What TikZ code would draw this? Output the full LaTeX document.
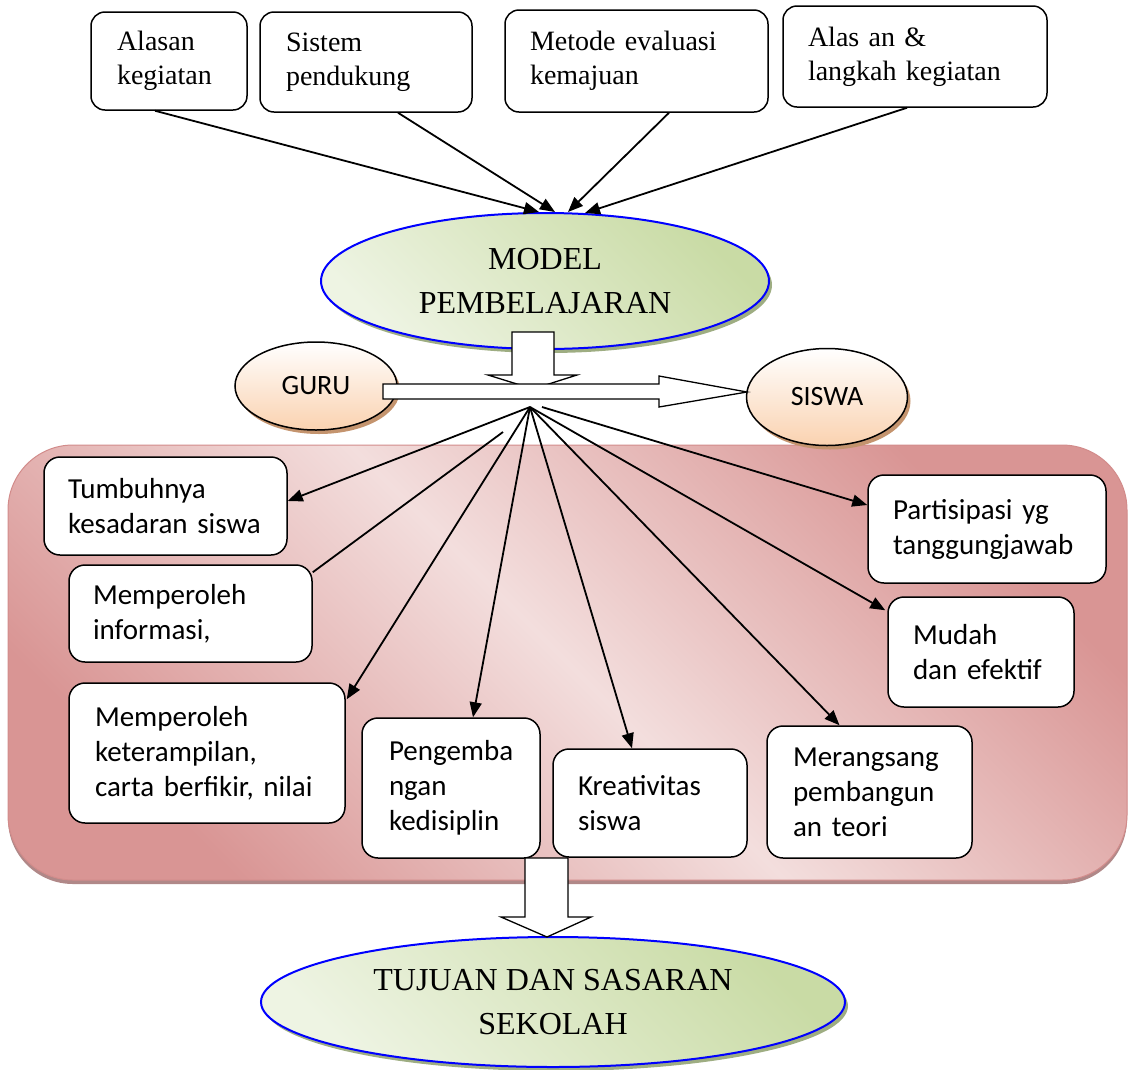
\documentclass[tikz,border=0pt]{standalone}
\usepackage{fontspec}
\setmainfont{Liberation Serif}
\newfontfamily\calibri{Carlito}
\usetikzlibrary{shapes.geometric,shadows,arrows.meta,calc}
\definecolor{pdark}{HTML}{D99594}
\definecolor{plight}{HTML}{F3DEDD}
\definecolor{gdark}{HTML}{C9DBA5}
\definecolor{glight}{HTML}{EEF4E3}
\definecolor{obot}{HTML}{FAD2B0}
\definecolor{gshadow}{HTML}{9EAD82}
\definecolor{oshadow}{HTML}{C4946E}
\definecolor{pshadow}{HTML}{B08888}
\definecolor{pborder}{HTML}{D28C8B}
\definecolor{eblue}{HTML}{0000FF}
\begin{document}
\begin{tikzpicture}[x=1pt,y=-1pt,
  topbox/.style={draw, fill=white, rounded corners=14pt, line width=1.5pt, align=left,
    font=\fontsize{28}{34}\selectfont, inner ysep=0pt},
  subbox/.style={draw, fill=white, rounded corners=16pt, line width=1.5pt, align=left,
    font=\calibri\fontsize{29}{35}\selectfont, inner ysep=0pt},
  goal/.style={ellipse, draw=eblue, line width=2pt, inner sep=0pt, align=center,
    font=\fontsize{32}{44}\selectfont, top color=gdark, bottom color=glight, shading angle=-45,
    drop shadow={shadow xshift=3pt, shadow yshift=-4pt, fill=gshadow, opacity=1}},
  actor/.style={ellipse, draw, line width=1.5pt, inner sep=0pt,
    font=\calibri\fontsize{28}{34}\selectfont, top color=white, bottom color=obot,
    drop shadow={shadow xshift=3pt, shadow yshift=-4pt, fill=oshadow, opacity=1}},
  panel/.style={draw=pborder, line width=1pt, rounded corners=65pt,
    top color=pdark, bottom color=pdark, middle color=plight, shading angle=-45,
    drop shadow={shadow xshift=0pt, shadow yshift=-4pt, fill=pshadow, opacity=1}},
  arr/.style={line width=1.8pt, -{Triangle[length=15pt,width=12pt]}},
  plain/.style={line width=1.8pt},
  blockarrow/.style={draw, fill=white, line width=1.3pt, line join=miter}
]
\useasboundingbox (0,0) rectangle (1133,1069);

% background panel
\node[panel, minimum width=1119pt, minimum height=435pt, inner sep=0pt] (panel) at (567.5,662.5) {};

% top boxes
\node[topbox, text width=104pt, inner xsep=26pt, minimum height=98pt] (alasan) at (169,61) {Alasan\\kegiatan};
\node[topbox, text width=160pt, inner xsep=26pt, minimum height=100pt] (sistem) at (366,62) {Sistem\\pendukung};
\node[topbox, text width=213pt, inner xsep=25pt, minimum height=102pt] (metode) at (636.5,61) {Metode evaluasi\\kemajuan};
\node[topbox, text width=214pt, inner xsep=25pt, minimum height=101pt] (langkah) at (915,56.5) {Alas an \&\\langkah kegiatan};

% ellipses
\node[goal, minimum width=448pt, minimum height=136pt] (model) at (545,281) {MODEL\\PEMBELAJARAN};
\node[actor, minimum width=162pt, minimum height=88pt] (guru) at (316,386) {GURU};
\node[actor, minimum width=161pt, minimum height=97pt] (siswa) at (827,397) {SISWA};
\node[goal, minimum width=584pt, minimum height=130pt] (tujuan) at (553,1002) {TUJUAN DAN SASARAN\\SEKOLAH};

% top arrows
\draw[arr] ($(alasan.south)+(-14,0)$) -- ($(model.north)+(-6,0)$);
\draw[arr] ($(sistem.south)+(32,0)$) -- ($(model.north)+(10,0)$);
\draw[arr] ($(metode.south)+(32.5,0)$) -- ($(model.north)+(23,0)$);
\draw[arr] ($(langkah.south)+(-8,0)$) -- ($(model.north)+(40,1)$);

% block arrows
\draw[blockarrow] (512,332) -- (554,332) -- (554,375) -- (577,375) -- (533,389) -- (488,375) -- (512,375) -- cycle;
\draw[blockarrow] (383,384) -- (659,384) -- (659,376) -- (747,392) -- (659,407) -- (659,399) -- (383,399) -- cycle;

% inner boxes
\node[subbox, text width=195pt, inner xsep=24pt, minimum height=98pt] (tumbuh) at (165.5,506) {Tumbuhnya\\kesadaran siswa};
\node[subbox, text width=195pt, inner xsep=24pt, minimum height=97pt] (info) at (190.5,613.5) {Memperoleh\\informasi,};
\node[subbox, text width=224pt, inner xsep=26pt, minimum height=140pt] (ketr) at (207,753) {Memperoleh\\keterampilan,\\carta berfikir, nilai};
\node[subbox, text width=124pt, inner xsep=27pt, minimum height=140pt] (peng) at (451,788) {Pengemba\\ngan\\kedisiplin};
\node[subbox, text width=144pt, inner xsep=25pt, minimum height=108pt] (kreat) at (650,803) {Kreativitas\\siswa};
\node[subbox, text width=153pt, inner xsep=26pt, minimum height=132pt] (meran) at (869.5,792) {Merangsang\\pembangun\\an teori};
\node[subbox, text width=136pt, inner xsep=25pt, minimum height=110pt] (mudah) at (981,652) {Mudah\\dan efektif};
\node[subbox, text width=188pt, inner xsep=25pt, minimum height=108pt] (partis) at (987,529) {Partisipasi yg\\tanggungjawab};

% fan sources
\coordinate (src) at (530,407);
\coordinate (srcR) at (542,407);
\coordinate (srcL) at (503,432);

\draw[arr] (src) -- ($(tumbuh.east)+(0,-5)$);
\draw[plain] (srcL) -- ($(info.north east)+(0,8)$);
\draw[arr] (src) -- ($(ketr.north east)+(1,17)$);
\draw[arr] (src) -- ($(peng.north)+(22,0)$);
\draw[arr] (src) -- ($(kreat.north)+(-18,0)$);
\draw[arr] (src) -- ($(meran.north)+(-30,0)$);
\draw[arr] (src) -- ($(mudah.north west)+(-2,14)$);
\draw[arr] (srcR) -- ($(partis.west)+(0,-24)$);

% bottom block arrow
\draw[blockarrow] (525,858) -- (568,858) -- (568,917) -- (591,917) -- (547,937) -- (501,917) -- (525,917) -- cycle;
\end{tikzpicture}
\end{document}
